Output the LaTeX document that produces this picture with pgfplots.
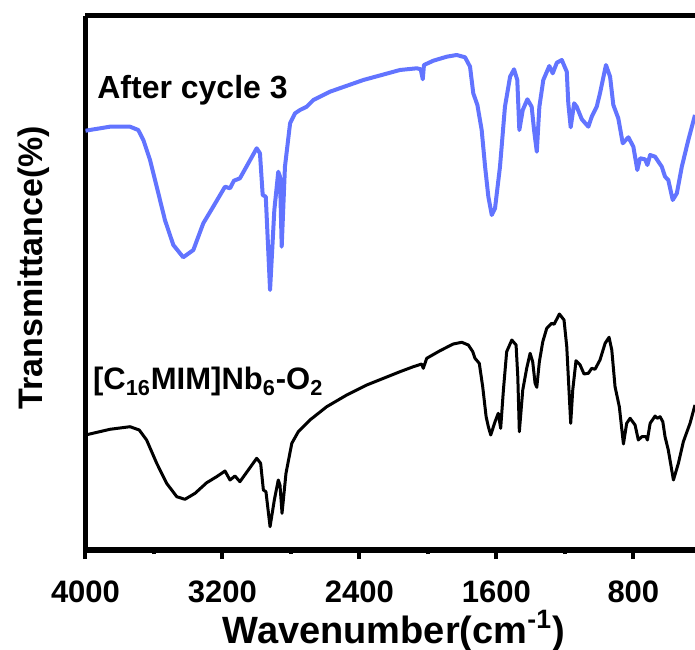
\documentclass[border=0pt]{standalone}
\usepackage{fontspec}
\setmainfont{Liberation Sans}
\usepackage{pgfplots}
\pgfplotsset{compat=1.18}
\definecolor{cycblue}{RGB}{98,116,255}
\begin{document}
\begin{tikzpicture}
\begin{axis}[
  scale only axis, width=304.75bp, height=267bp,
  x dir=reverse, xmin=440, xmax=4000, ymin=100, ymax=634,
  axis y line*=left,
  axis line style={line width=2.5bp},
  xtick={4000,3200,2400,1600,800},
  xticklabels={4000,3200,2400,1600,800},
  minor xtick={3600,2800,2000,1200},
  xtick pos=bottom, tick align=outside,
  major tick length=4.5bp, minor tick length=2bp,
  every tick/.style={line width=2bp, black},
  ytick=\empty,
  xticklabel style={font=\fontsize{15.5bp}{17bp}\selectfont\bfseries, yshift=-7.5bp},
  clip=true,
]
\addplot[cycblue, line width=2bp, line join=round] coordinates {
(4000,519.3)(3857,523.3)(3740,523.3)(3692,520)(3662,510)(3623,490)(3584,463.3)(3536,430)
(3487,405)(3429,392.7)(3370,400)(3312,426.7)(3254,443.3)(3185,463.3)(3156,461.7)(3133,469.3)
(3098,471.7)(3049,486.7)(3000,501.7)(2981,496.7)(2965,455)(2947,453.3)(2922,360)(2897,440)
(2874,478.3)(2864,473.3)(2854,403.3)(2835,483.3)(2805,526.7)(2776,536.7)(2747,540)(2708,543.3)
(2669,550)(2572,558.3)(2377,570)(2163,580)(2065,581.7)(2042,580.7)(2030,570.7)(2023,585)
(1968,589.3)(1890,593.3)(1832,595)(1783,592.7)(1754,583.3)(1735,556.7)(1711,545)(1686,520)
(1666,483.3)(1647,453.3)(1627,435)(1608,441.7)(1579,483.3)(1550,543.3)(1520,573.3)(1497,580.7)
(1478,570)(1466,520)(1446,540)(1419,550.7)(1394,543.3)(1380,520)(1364,498.3)(1349,543.3)
(1326,570)(1291,584)(1271,576.7)(1247,587.3)(1218,590)(1189,578.3)(1180,546.7)(1166,522.7)
(1146,546.7)(1131,543.3)(1101,530.7)(1063,523.3)(1043,533.3)(1014,543.3)(995,556.7)(960,585)
(936,573.3)(917,545)(888,531.7)(862,506.7)(829,512.7)(800,503.3)(777,480)(761,491.7)
(732,490.7)(718,485)(702,495)(673,493.3)(634,483.3)(615,473.3)(596,470)(570,450)
(546,456.7)(517,483.3)(479,510)(440,535)
};
\addplot[black, line width=1.5bp, line join=round] coordinates {
(4000,215)(3857,220.7)(3740,223.3)(3686,220)(3643,210)(3584,186.7)(3526,166.7)(3467,153.3)
(3419,150.7)(3360,156.7)(3292,167.3)(3234,173.3)(3185,179)(3156,170)(3127,174)(3098,168.3)
(3049,180)(3000,191.7)(2977,186.7)(2961,160)(2946,158.3)(2922,123.3)(2897,150)(2874,170)
(2864,165)(2852,136.7)(2829,176.7)(2795,206.7)(2757,218.3)(2689,230)(2591,243.3)(2474,255)
(2357,265)(2163,278.3)(2085,283.3)(2036,286)(2027,281.7)(2007,291.7)(1929,299.3)(1852,306)
(1802,307.7)(1764,305)(1738,298.3)(1725,291.7)(1700,286.7)(1680,263.3)(1660,233.3)(1647,223.3)
(1633,215)(1608,228.3)(1589,236.7)(1575,221.7)(1559,260)(1540,298.3)(1510,310)(1485,305)
(1475,273.3)(1466,218.3)(1446,260)(1423,281.7)(1403,296.7)(1388,288.3)(1374,266.7)(1364,262.7)
(1349,288.3)(1329,308.3)(1306,321.7)(1277,326.7)(1263,325.7)(1232,336)(1205,330)(1189,303.3)
(1176,260)(1166,226.7)(1154,260)(1135,289.3)(1111,285)(1088,276)(1063,276.7)(1043,281.7)
(1024,280.7)(995,290)(965,306.7)(942,312.7)(926,300)(907,263.3)(882,243.3)(858,206)
(839,226.7)(819,231.7)(790,225)(771,210)(751,213.3)(726,213.3)(718,210)(702,226.7)
(673,234)(660,231.7)(644,233.3)(628,228.3)(615,213.3)(596,200)(566,170)(537,186.7)
(508,208.3)(469,226.7)(440,245)
};
\coordinate (BL) at (rel axis cs:0,0);
\coordinate (TR) at (rel axis cs:1,1);
\coordinate (XL) at (rel axis cs:0.5,0);
\coordinate (YL) at (rel axis cs:0,0.529);
\node[anchor=base west, font=\fontsize{16bp}{18bp}\selectfont\bfseries, inner sep=0pt]
  at (axis cs:3933,551) {After cycle 3};
\node[anchor=base west, font=\fontsize{15.5bp}{18bp}\selectfont\bfseries, inner sep=0pt]
  at (axis cs:3958,260) {[C\textsubscript{16}MIM]Nb\textsubscript{6}-O\textsubscript{2}};
\end{axis}
\node[anchor=base, font=\fontsize{19bp}{21bp}\selectfont\bfseries, inner sep=0pt]
  at ([xshift=1.75bp,yshift=-46.5bp]XL) {Wavenumber(cm\textsuperscript{-1})};
\node[anchor=base, rotate=90, font=\fontsize{17bp}{19bp}\selectfont\bfseries, inner sep=0pt]
  at ([xshift=-21.75bp]YL) {Transmittance(\%)};
\pgfresetboundingbox
\path ([xshift=-42.75bp,yshift=-50bp]BL) rectangle ([yshift=8bp]TR);
\end{tikzpicture}
\end{document}
